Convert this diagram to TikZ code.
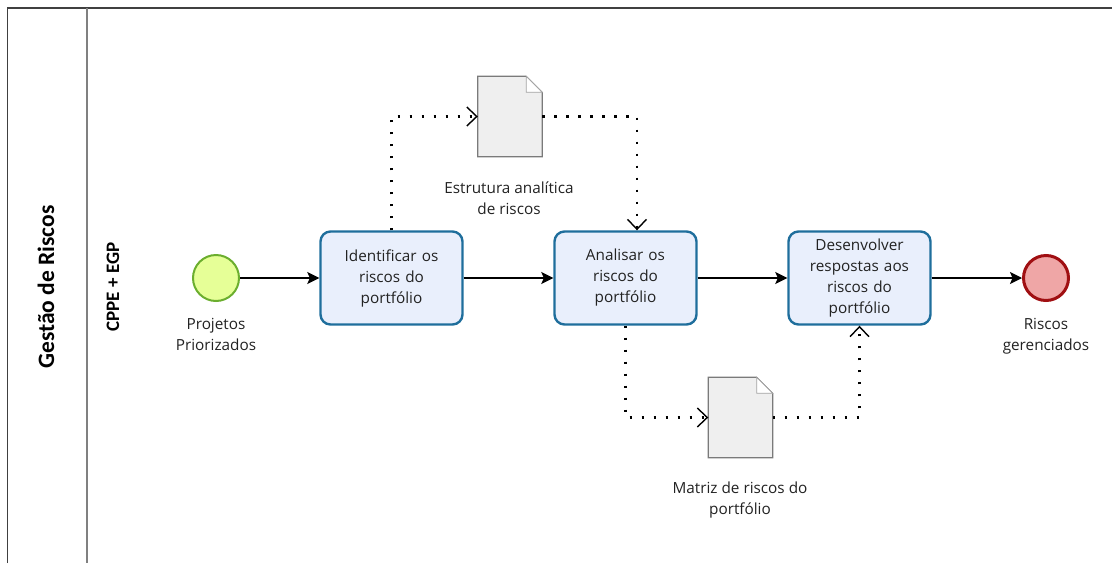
\documentclass[tikz,border=0pt]{standalone}
\usepackage{fontspec}
\setmainfont{Open Sans}
\newfontfamily\lanefont{Carlito}
\usetikzlibrary{arrows.meta}

\definecolor{taskfill}{HTML}{E9EFFC}
\definecolor{taskline}{HTML}{1F6E9C}
\definecolor{startfill}{HTML}{E6FF97}
\definecolor{startline}{HTML}{6BAE2E}
\definecolor{endfill}{HTML}{EFA6A6}
\definecolor{endline}{HTML}{A00F12}
\definecolor{docfill}{HTML}{EFEFEF}
\definecolor{docline}{HTML}{7A7A7A}
\definecolor{txt}{HTML}{222222}

\tikzset{
  every node/.style={text=txt},
  bodytext/.style={font=\fontsize{15.3}{21}\selectfont, align=center},
  task/.style={bodytext, draw=taskline, fill=taskfill, line width=2.4pt,
    rounded corners=10pt, minimum width=142pt, minimum height=93pt,
    inner sep=2pt, text width=136pt},
  startev/.style={circle, draw=startline, fill=startfill, line width=2pt,
    minimum size=46pt, inner sep=0pt},
  endev/.style={circle, draw=endline, fill=endfill, line width=3pt,
    minimum size=45pt, inner sep=0pt},
  docbox/.style={minimum width=64pt, minimum height=80pt, inner sep=0pt},
  docshape/.style={draw=docline, fill=docfill, line width=1.2pt},
  caption/.style={bodytext, inner sep=0pt},
  flow/.style={line width=1.5pt, black,
    -{Stealth[length=12pt,width=12pt,inset=2.5pt]}},
  assoc/.style={line width=2.6pt, black, dash pattern=on 2.6pt off 9.4pt,
    -{Straight Barb[length=10pt,width=19pt,line width=1.4pt]}},
  lane/.style={line width=1.6pt},
}

\begin{document}
\begin{tikzpicture}[x=1pt, y=-1pt]
  \useasboundingbox (0,0) rectangle (1112,563);

  % pool and lane frame
  \draw[lane, draw=black!75] (7.5,563) -- (7.5,8) -- (1112,8);
  \draw[lane, draw=black!50] (87,8) -- (87,563);
  \node[rotate=90, font=\lanefont\bfseries\fontsize{23.5}{26}\selectfont, text=black]
    (pool) at (46,287) {Gestão de Riscos};
  \node[rotate=90, font=\lanefont\bfseries\fontsize{19}{22}\selectfont, text=black]
    (lanename) at (113,287) {CPPE + EGP};

  % events
  \node[startev] (start) at (216,278) {};
  \node[caption] (startlbl) at (216,334.5) {Projetos\\Priorizados};
  \node[endev] (end) at (1046,278) {};
  \node[caption] (endlbl) at (1046,336) {Riscos\\gerenciados};

  % tasks
  \node[task] (t1) at (391.5,278) {Identificar os\\riscos do\\portfólio};
  \node[task] (t2) at (625.5,278) {Analisar os\\riscos do\\portfólio};
  \node[task] (t3) at (859.5,278) {Desenvolver\\respostas aos\\riscos do\\portfólio};

  % data objects
  \node[docbox] (d1) at (510,116.5) {};
  \node[docbox] (d2) at (740.5,417.5) {};
  \foreach \d in {d1,d2}{
    \draw[docshape] (\d.south west) -- (\d.north west)
      -- ([xshift=-16pt]\d.north east) -- ([yshift=-16pt]\d.north east)
      -- (\d.south east) -- cycle;
    \draw[draw=docline!70, fill=white, line width=0.8pt]
      ([xshift=-16pt]\d.north east) -- ([xshift=-16pt,yshift=-16pt]\d.north east)
      -- ([yshift=-16pt]\d.north east) -- cycle;
  }
  \node[caption] (d1lbl) at (509,198) {Estrutura analítica\\de riscos};
  \node[caption] (d2lbl) at (740,500.5) {Matriz de riscos do\\portfólio};

  % sequence flows
  \draw[flow] (start) -- (t1);
  \draw[flow] (t1) -- (t2);
  \draw[flow] (t2) -- (t3);
  \draw[flow] (t3) -- (end);

  % data associations
  \draw[assoc] (t1.north) |- (d1.west);
  \draw[assoc] (d1.east) -| ([xshift=11.5pt]t2.north);
  \draw[assoc] (t2.south) |- (d2.west);
  \draw[assoc] (d2.east) -| (t3.south);
\end{tikzpicture}
\end{document}
